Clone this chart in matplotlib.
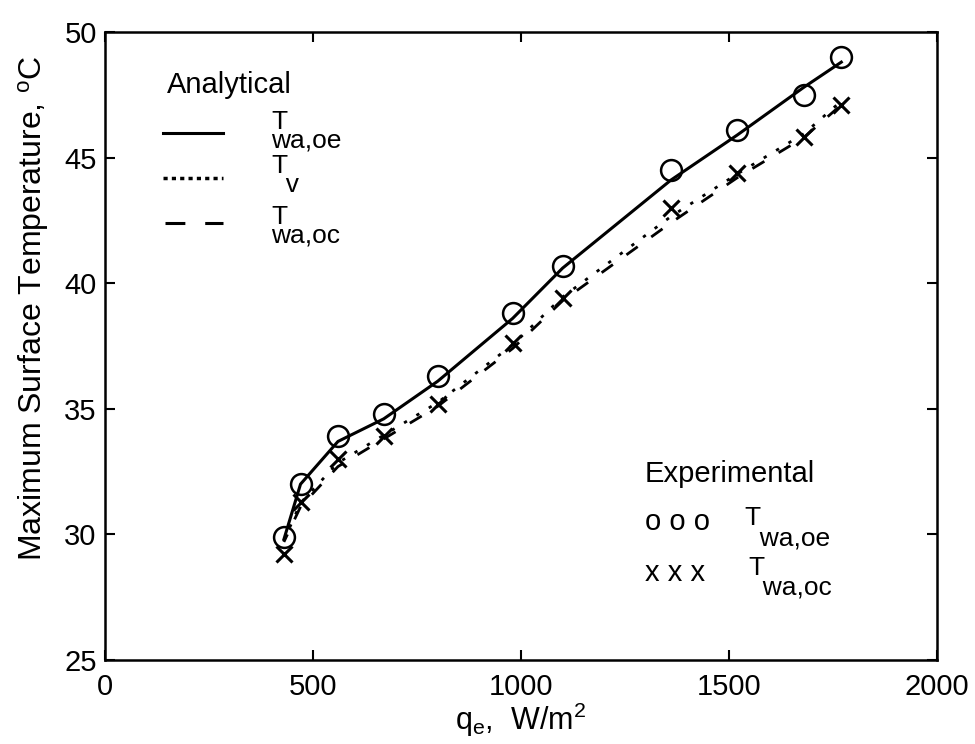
import matplotlib
matplotlib.use('Agg')
import matplotlib.pyplot as plt

plt.rcParams['font.family'] = ['Liberation Sans', 'DejaVu Sans']
plt.rcParams['mathtext.default'] = 'regular'

# heat flux, W/m2
q = [430, 470, 560, 670, 800, 980, 1100, 1360, 1520, 1680, 1770]
# experimental points
exp_oe = [29.9, 32.0, 33.9, 34.8, 36.3, 38.8, 40.7, 44.5, 46.1, 47.5, 49.0]
exp_oc = [29.2, 31.3, 33.0, 33.9, 35.2, 37.6, 39.4, 43.0, 44.4, 45.8, 47.1]
# analytical curves
ana_oe = [29.8, 32.0, 33.7, 34.6, 36.1, 38.6, 40.6, 44.1, 45.9, 47.8, 48.8]
ana_v = [29.75, 31.25, 32.85, 33.95, 35.25, 37.55, 39.45, 42.65, 44.35, 45.95, 47.25]
ana_oc = [29.7, 31.1, 32.7, 33.8, 35.1, 37.4, 39.3, 42.4, 44.2, 45.8, 47.1]

fig = plt.figure(figsize=(9.75, 7.44), dpi=100)
ax = fig.add_axes([0.1077, 0.1129, 0.8533, 0.8441])

ax.plot(q, ana_oe, 'k-', lw=2.2)
ax.plot(q, ana_v, color='k', lw=2.0, linestyle=(0, (1.2, 4)))
ax.plot(q, ana_oc, color='k', lw=2.0, linestyle=(2, (5, 6)))
ax.plot(q, exp_oe, 'o', ms=15, mfc='none', mec='k', mew=1.8)
ax.plot(q, exp_oc, 'x', ms=12, mec='k', mew=2.2)

ax.set_xlim(0, 2000)
ax.set_ylim(25, 50)
ax.set_xticks([0, 500, 1000, 1500, 2000])
ax.set_yticks([25, 30, 35, 40, 45, 50])
ax.tick_params(direction='in', length=7, width=1.5, top=True, right=True,
               labelsize=21)
ax.tick_params(axis='x', pad=9)
ax.tick_params(axis='y', pad=6)
for s in ax.spines.values():
    s.set_linewidth(1.8)

ax.set_xlabel(r'q$_e$,  W/m$^2$', fontsize=22, labelpad=0)
ax.set_ylabel(r'Maximum Surface Temperature, $^o$C', fontsize=23)
ax.yaxis.set_label_coords(-0.065, 0.56)

# analytical legend
tr = ax.transAxes
ax.text(0.0745, 0.916, 'Analytical', transform=tr, fontsize=21, va='center')
ax.plot([0.07, 0.142], [0.839, 0.839], 'k-', lw=2.2, transform=tr)
ax.plot([0.07, 0.142], [0.768, 0.768], color='k', lw=2.5,
        linestyle=(0, (1.2, 1.2)), transform=tr)
ax.plot([0.072, 0.142], [0.696, 0.696], color='k', lw=2.2,
        linestyle=(0, (6.5, 6.5)), transform=tr)
ax.text(0.2, 0.876, 'T\nwa,oe', transform=tr, fontsize=19, va='top',
        linespacing=0.72)
ax.text(0.2, 0.805, 'T\n  v', transform=tr, fontsize=19, va='top',
        linespacing=0.72)
ax.text(0.2, 0.725, 'T\nwa,oc', transform=tr, fontsize=19, va='top',
        linespacing=0.72)

# experimental legend
ax.text(0.649, 0.296, 'Experimental', transform=tr, fontsize=21, va='center')
ax.text(0.649, 0.22, 'o o o', transform=tr, fontsize=21, va='center')
ax.text(0.769, 0.245, 'T\n  wa,oe', transform=tr, fontsize=19, va='top',
        linespacing=0.8)
ax.text(0.773, 0.166, 'T\n  wa,oc', transform=tr, fontsize=19, va='top',
        linespacing=0.8)
ax.text(0.649, 0.139, 'x x x', transform=tr, fontsize=21, va='center')

fig.savefig('out.png', dpi=100)
